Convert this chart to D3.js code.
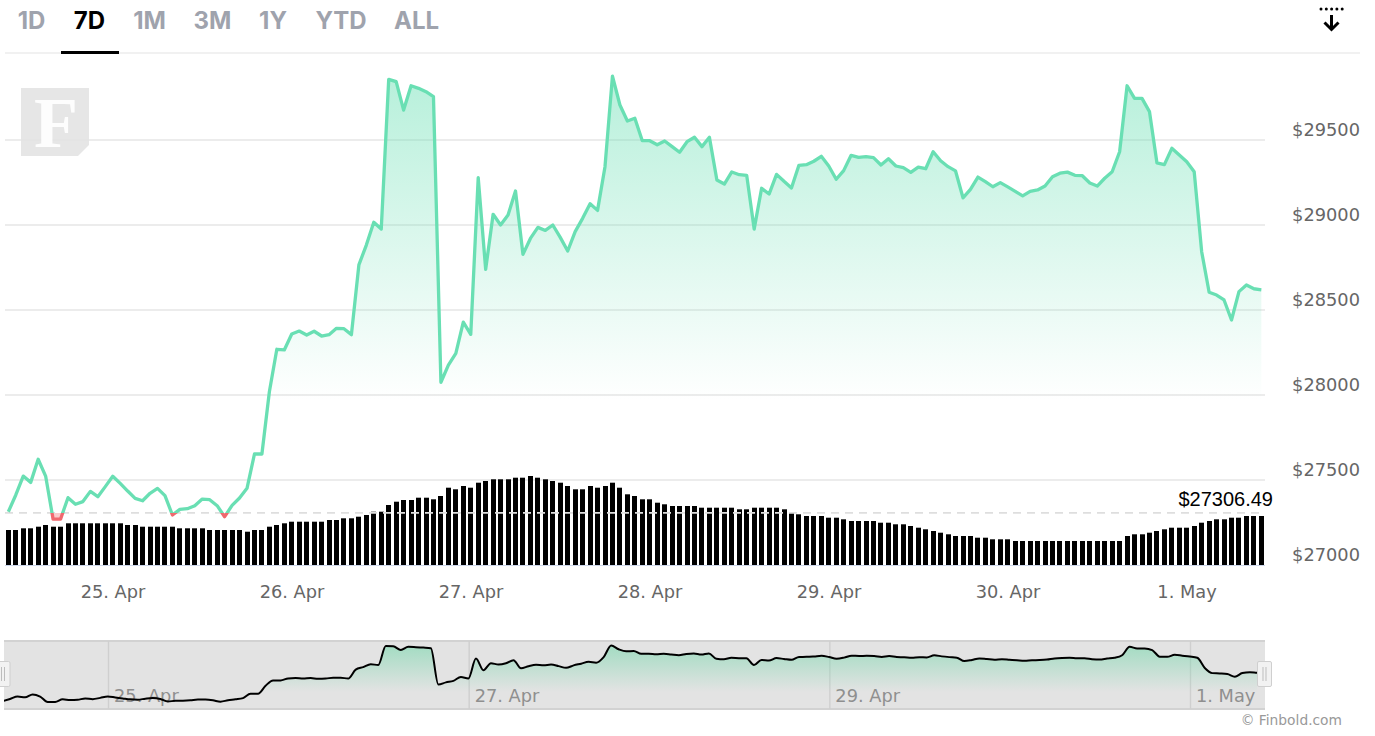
<!DOCTYPE html>
<html><head><meta charset="utf-8">
<script src="https://cdn.jsdelivr.net/npm/d3@7/dist/d3.min.js"></script>
<style>html,body{margin:0;padding:0;background:#fff;overflow:hidden}svg{display:block}</style>
</head><body><svg id="c" width="1375" height="736"></svg>
<script>
const ranges = ["1D","7D","1M","3M","1Y","YTD","ALL"];
const activeRange = "7D";
const seriesStart = "2023-04-24T09:58:00Z";
const threshold = 27306.49;
const prices = [
27313,27412,27523,27486,27622,27523,27270,27270,27396,27357,
27373,27433,27402,27461,27522,27480,27435,27392,27378,27422,
27451,27408,27294,27327,27331,27349,27388,27384,27349,27284,
27351,27394,27451,27653,27653,28019,28269,28265,28359,28376,
28353,28375,28347,28355,28392,28390,28355,28765,28882,29016,
28976,29857,29843,29676,29819,29804,29784,29755,28075,28176,
28245,28429,28357,29278,28739,29063,29000,29059,29200,28827,
28921,28986,28968,29000,28927,28847,28961,29039,29125,29086,
29343,29876,29706,29612,29628,29496,29496,29472,29494,29461,
29428,29490,29516,29461,29516,29265,29241,29312,29296,29292,
28976,29216,29182,29298,29257,29218,29351,29355,29375,29404,
29347,29269,29320,29410,29398,29402,29396,29353,29390,29347,
29337,29310,29341,29331,29431,29378,29343,29318,29160,29210,
29282,29255,29225,29249,29224,29198,29171,29198,29206,29229,
29284,29305,29311,29292,29290,29247,29229,29275,29313,29431,
29819,29745,29745,29667,29366,29355,29451,29412,29372,29313,
28843,28604,28588,28559,28441,28608,28647,28625,28619];
const volumes = [
35,35,36.7,36.7,38.3,40,38.3,38.3,41.7,41.7,
41.7,41.7,41.7,41.7,41.7,41.7,40,40,38.3,38.3,
38.3,38.3,38.3,36.7,36.7,36.7,36.7,35,35,35,
35,35,33.3,35,35,38.3,40,41.7,43.3,43.3,
43.3,43.3,43.3,45,45,46.7,46.7,48.3,50,53.3,
53.3,60,63.3,65,65,67.3,67.3,65.7,69,77.3,
75.7,79,77.3,82.3,84,85.7,85.7,85.7,87.3,87.3,
89,87.3,85.7,84,82.3,79,75.7,75.7,79,77.3,
79,82.3,77.3,70.7,69,65.7,65.7,62.3,60.7,59,
59,59,59,57.3,57.3,57.3,57.3,57.3,55.7,55.7,
57.3,57.3,57.3,57.3,55.7,52.3,50.7,49,49,49,
47.3,47.3,45.7,44,44,44,44,42.3,42.3,40.7,
40.7,39,37.3,35.7,34,32.3,30.7,29,29,29,
27.3,27.3,25.7,25.7,25.7,24,24,24,24,24,
24,24,24,24,24,24,24,24,24,24,
29,30.7,30.7,32.3,34,35.7,37.3,37.3,37.3,39,
42.3,44,45.7,45.7,47.3,47.3,49,49,49];
const yTicks = [27000,27500,28000,28500,29000,29500];
const xTickDates = ["2023-04-25","2023-04-26","2023-04-27","2023-04-28","2023-04-29","2023-04-30","2023-05-01"];
const xTickLabels = ["25. Apr","26. Apr","27. Apr","28. Apr","29. Apr","30. Apr","1. May"];
const navTickDates = ["2023-04-25","2023-04-27","2023-04-29","2023-05-01"];
const navTickLabels = ["25. Apr","27. Apr","29. Apr","1. May"];

const P = {l:5,r:1265,t:53,b:565,navL:4,navR:1265,navT:641,navB:709,navEnd:1257};
const AXF = "'DejaVu Sans',sans-serif", GREEN="#69dfb3", RED="#f0686e";
const svg = d3.select("#c");
const defs = svg.append("defs");
const t0 = new Date(seriesStart).getTime();
const rows = prices.map((p,i)=>({d:new Date(t0+i*3600e3),p,v:volumes[i]}));

const x = d3.scaleUtc().domain([new Date(xTickDates[0]),new Date(xTickDates[6])]).range([113,1187]);
const y = d3.scaleLinear().domain([27000,29500]).range([565,140]);
const yVol = d3.scaleLinear().domain([0,100]).range([565,465]);
const xN = d3.scaleUtc().domain([new Date(navTickDates[0]),new Date(navTickDates[3])]).range([108,1190]);
const yN = d3.scaleLinear().domain([27270,29857]).range([702,646]);

const g1 = defs.append("linearGradient").attr("id","gMain").attr("gradientUnits","userSpaceOnUse").attr("x1",0).attr("x2",0).attr("y1",76).attr("y2",400);
g1.append("stop").attr("offset",0).attr("stop-color",GREEN).attr("stop-opacity",.48);
g1.append("stop").attr("offset",1).attr("stop-color",GREEN).attr("stop-opacity",0);
const g2 = defs.append("linearGradient").attr("id","gNav").attr("gradientUnits","userSpaceOnUse").attr("x1",0).attr("x2",0).attr("y1",646).attr("y2",692);
g2.append("stop").attr("offset",0).attr("stop-color","#6fd6a8").attr("stop-opacity",.55);
g2.append("stop").attr("offset",1).attr("stop-color","#6fd6a8").attr("stop-opacity",0);
const yT = y(threshold);
defs.append("clipPath").attr("id","above").append("rect").attr("x",0).attr("y",0).attr("width",1375).attr("height",yT);
defs.append("clipPath").attr("id","below").append("rect").attr("x",0).attr("y",yT).attr("width",1375).attr("height",100);
defs.append("clipPath").attr("id","navClip").append("rect").attr("x",P.navL).attr("y",P.navT).attr("width",P.navEnd-P.navL).attr("height",P.navB-P.navT);

// range selector
const tabCx = [31.5,89.5,149.5,212.5,273,341,416.5];
svg.append("g").selectAll("text").data(ranges).join("text")
  .attr("x",(d,i)=>tabCx[i]).attr("y",29).attr("text-anchor","middle")
  .attr("font-family","Inter,sans-serif").attr("font-weight",700).attr("font-size",24)
  .attr("fill",d=>d===activeRange?"#000":"#9fa3ad").text(d=>d);
svg.append("rect").attr("x",5).attr("y",52.5).attr("width",1355).attr("height",1).attr("fill","#e4e4e4");
svg.append("rect").attr("x",61).attr("y",51).attr("width",58).attr("height",3).attr("fill","#000");

// download icon
const ic = svg.append("g");
ic.selectAll("circle").data(d3.range(5)).join("circle").attr("cx",d=>1321+d*5.3).attr("cy",9).attr("r",1.5).attr("fill","#000");
ic.append("path").attr("d","M1331.5 15V29M1324.5 22.5L1331.5 29.5L1338.5 22.5").attr("fill","none").attr("stroke","#000").attr("stroke-width",3);

// grid
svg.append("g").selectAll("line").data(yTicks.filter(d=>d>27000)).join("line")
  .attr("x1",P.l).attr("x2",P.r).attr("y1",d=>y(d)).attr("y2",d=>y(d)).attr("stroke","#e6e6e6").attr("stroke-width",1.4);

// logo
const lg = svg.append("g");
lg.append("path").attr("d","M21 88H89V145L78 156H21Z").attr("fill","#e2e2e2").attr("fill-opacity",.88);
lg.append("text").attr("x",56).attr("y",147).attr("text-anchor","middle").attr("font-family","'Liberation Serif',serif").attr("font-weight",700).attr("font-size",72).attr("fill","#fff").attr("fill-opacity",.92).text("F");

// area and bars
const area = d3.area().x(d=>x(d.d)).y0(yT).y1(d=>y(d.p));
const line = d3.line().x(d=>x(d.d)).y(d=>y(d.p));
svg.append("path").datum(rows).attr("d",area).attr("fill","url(#gMain)").attr("clip-path","url(#above)");
svg.append("path").datum(rows).attr("d",area).attr("fill",RED).attr("fill-opacity",.35).attr("clip-path","url(#below)");
svg.append("g").selectAll("rect").data(rows).join("rect")
  .attr("x",d=>Math.round(x(d.d)-2.5)).attr("width",5).attr("y",d=>yVol(d.v)).attr("height",d=>yVol(0)-yVol(d.v)).attr("fill","#000");
svg.append("line").attr("x1",P.l).attr("x2",P.r).attr("y1",565.5).attr("y2",565.5).attr("stroke","#ccd6eb").attr("stroke-width",1);
svg.append("line").attr("x1",P.l).attr("x2",P.r).attr("y1",yT).attr("y2",yT).attr("stroke","#dedede").attr("stroke-width",1.6).attr("stroke-dasharray","8 6");
svg.append("path").datum(rows).attr("d",line).attr("fill","none").attr("stroke",GREEN).attr("stroke-width",3.3).attr("stroke-linejoin","round").attr("clip-path","url(#above)");
svg.append("path").datum(rows).attr("d",line).attr("fill","none").attr("stroke",RED).attr("stroke-width",3.3).attr("stroke-linejoin","round").attr("clip-path","url(#below)");

// axes
const yAxis = d3.axisRight(y).tickValues(yTicks).tickSize(0).tickPadding(0).tickFormat(d=>"$"+d);
const ya = svg.append("g").attr("transform","translate(1360,-11)").call(yAxis);
ya.select(".domain").remove();
ya.selectAll("text").attr("text-anchor","end").attr("x",0).attr("dy","0.36em").attr("font-family",AXF).attr("font-size",17.8).attr("fill","#666");
const xAxis = d3.axisBottom(x).tickValues(xTickDates.map(d=>new Date(d))).tickSize(0).tickPadding(0).tickFormat((d,i)=>xTickLabels[i]);
const xa = svg.append("g").attr("transform","translate(-0.5,598)").call(xAxis);
xa.select(".domain").remove();
xa.selectAll("text").attr("y",0).attr("dy",0).attr("font-family",AXF).attr("font-size",17.8).attr("fill","#666");

// last price label
svg.append("text").attr("x",1273).attr("y",506).attr("text-anchor","end").attr("font-family","'Liberation Sans',sans-serif").attr("font-size",20).attr("fill","#000").text("$"+threshold.toFixed(2));

// navigator
svg.append("rect").attr("x",P.navL).attr("y",P.navT).attr("width",P.navR-P.navL).attr("height",P.navB-P.navT).attr("fill","#e3e3e3");
svg.append("g").selectAll("line").data([P.navT,P.navB]).join("line").attr("x1",P.navL).attr("x2",P.navR).attr("y1",d=>d).attr("y2",d=>d).attr("stroke","#d2d2d2").attr("stroke-width",2);
const nv = navTickDates.map(d=>new Date(d));
svg.append("g").selectAll("line").data(nv).join("line").attr("x1",d=>xN(d)+.5).attr("x2",d=>xN(d)+.5).attr("y1",P.navT).attr("y2",P.navB).attr("stroke","#cfcfcf").attr("stroke-width",1.4);
svg.append("g").selectAll("text").data(nv).join("text").attr("x",d=>xN(d)+6).attr("y",702)
  .attr("font-family",AXF).attr("font-size",17.8).attr("fill","#8f8f8f").text((d,i)=>navTickLabels[i]);
const areaN = d3.area().curve(d3.curveMonotoneX).x(d=>xN(d.d)).y0(692).y1(d=>Math.min(692,yN(d.p)));
svg.append("path").datum(rows).attr("d",areaN).attr("fill","url(#gNav)").attr("clip-path","url(#navClip)");
svg.append("path").datum(rows).attr("d",d3.line().curve(d3.curveMonotoneX).x(d=>xN(d.d)).y(d=>yN(d.p))).attr("fill","none").attr("stroke","#000").attr("stroke-width",2).attr("stroke-linejoin","round").attr("clip-path","url(#navClip)");
const handle = (hx)=>{
  const h = svg.append("g");
  h.append("rect").attr("x",hx).attr("y",661.5).attr("width",14).attr("height",25).attr("rx",1.5).attr("fill","#f2f2f2").attr("stroke","#cfcfcf");
  h.selectAll("line").data([5.5,8.5]).join("line").attr("x1",d=>hx+d).attr("x2",d=>hx+d).attr("y1",667).attr("y2",681).attr("stroke","#bdbdbd");
};
handle(-4); handle(1257.5);

svg.append("text").attr("x",1342).attr("y",725).attr("text-anchor","end").attr("font-family",AXF).attr("font-size",13.8).attr("fill","#999").text("© Finbold.com");
</script></body></html>
